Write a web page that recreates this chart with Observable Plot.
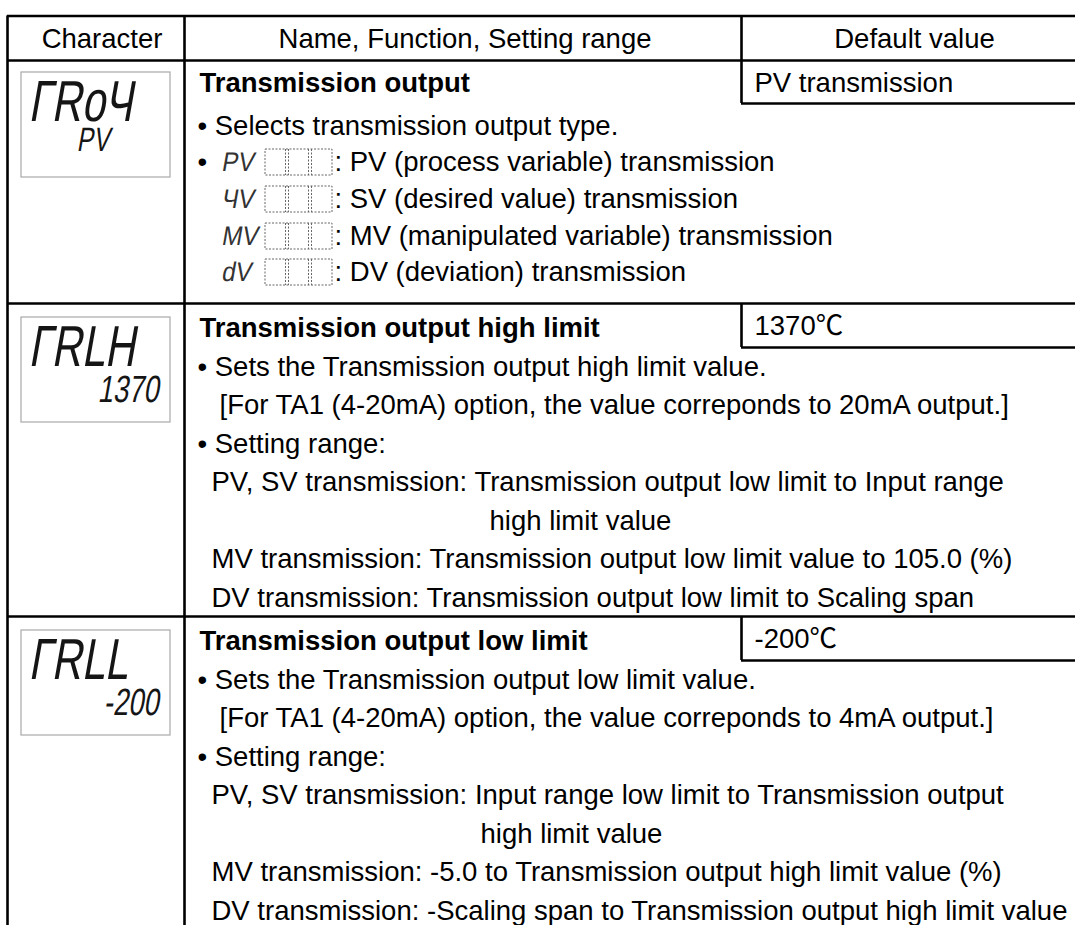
<!DOCTYPE html>
<html><head><meta charset="utf-8">
<script src="https://cdn.jsdelivr.net/npm/d3@7"></script>
<script src="https://cdn.jsdelivr.net/npm/@observablehq/plot@0.6"></script>
<style>
html,body{margin:0;padding:0;background:#fff;}
#chart svg{display:block;}
</style></head><body><div id="chart"></div>
<script>
// ---------------- DATA ----------------
const headers = ["Character", "Name, Function, Setting range", "Default value"];
const lcdMain = ["ΓRoЧ", "ΓRLH", "ΓRLL"];
const lcdSub = ["PV", "1370", "-200"];
const titles = ["Transmission output", "Transmission output high limit", "Transmission output low limit"];
const defaults = ["PV transmission", "1370℃", "-200℃"];
const row1Lines = ["• Selects transmission output type."];
const outputTypeCodes = ["PV", "ЧV", "MV", "dV"];
const outputTypeLabels = [
  "PV (process variable) transmission",
  "SV (desired value) transmission",
  "MV (manipulated variable) transmission",
  "DV (deviation) transmission"
];
const row2Lines = [
  "• Sets the Transmission output high limit value.",
  "[For TA1 (4-20mA) option, the value correponds to 20mA output.]",
  "• Setting range:",
  "PV, SV transmission: Transmission output low limit to Input range",
  "high limit value",
  "MV transmission: Transmission output low limit value to 105.0 (%)",
  "DV transmission: Transmission output low limit to Scaling span"
];
const row3Lines = [
  "• Sets the Transmission output low limit value.",
  "[For TA1 (4-20mA) option, the value correponds to 4mA output.]",
  "• Setting range:",
  "PV, SV transmission: Input range low limit to Transmission output",
  "high limit value",
  "MV transmission: -5.0 to Transmission output high limit value (%)",
  "DV transmission: -Scaling span to Transmission output high limit value"
];

// ---------------- LAYOUT ----------------
const W = 1075, H = 925;
const FONT = "'Liberation Sans', Arial, 'Noto Sans CJK JP', sans-serif";
const LCD_BIG = "'Liberation Sans', 'DejaVu Sans', lcdbig";
const LCD_SUBL = "'Liberation Sans', 'DejaVu Sans', lcdsmallL";
const LCD_SUBR = "'Liberation Sans', 'DejaVu Sans', lcdsmallR";
const LCD_INL = "'Liberation Sans', 'DejaVu Sans', lcdinline";
const FS = 27.5, LW = 2.6;
const colX = {left: 7, char: 184, def: 741};
const yTop = 15.5, yHead = 60;
const rowTop = [60, 303, 616];
const defBoxBottom = [103, 347, 660];
const lcdBox = {x1: 21, x2: 170, h: 105, top: [72, 317, 630]};
const tx = {title: 199, bullet: 197, bracket: 219, sub: 211, cont: [0, 489, 480], def: 754};
const row1Y = [83, 126, 162, 199, 236, 272];
const rowFirst = 25, rowStep = 38.5;
const inline = {glyph: 222, box1: 265, box2: 332, half: 13, div: [285, 288, 308, 311], label: 334};

const hLines = [
  {y: yTop, x1: colX.left, x2: W},
  {y: yHead, x1: colX.left, x2: W},
  ...rowTop.slice(1).map(y => ({y, x1: colX.left, x2: W})),
  ...defBoxBottom.map(y => ({y, x1: colX.def, x2: W}))
];
const vLines = [
  {x: colX.left, y1: yTop, y2: H},
  {x: colX.char, y1: yTop, y2: H},
  {x: colX.def, y1: yTop, y2: defBoxBottom[0]},
  {x: colX.def, y1: rowTop[1], y2: defBoxBottom[1]},
  {x: colX.def, y1: rowTop[2], y2: defBoxBottom[2]}
];

const headerTexts = headers.map((t, i) => ({text: t, x: [101.5, 464.5, 914][i], y: 39}));
const boldTexts = [];
const plainTexts = [];
const defTexts = defaults.map((t, r) => ({text: t, x: tx.def, y: (rowTop[r] + defBoxBottom[r]) / 2 + 1}));
boldTexts.push({text: titles[0], x: tx.title, y: row1Y[0]});
plainTexts.push({text: row1Lines[0], x: tx.bullet, y: row1Y[1]});
const inlineGlyphs = [], dashBoxes = [], dashDivs = [];
outputTypeCodes.forEach((code, j) => {
  const y = row1Y[2 + j];
  if (j === 0) plainTexts.push({text: "•", x: tx.bullet, y});
  inlineGlyphs.push({text: code, x: inline.glyph, y});
  dashBoxes.push({x1: inline.box1, x2: inline.box2, y1: y - inline.half, y2: y + inline.half});
  inline.div.forEach(x => dashDivs.push({x, y1: y - inline.half, y2: y + inline.half}));
  plainTexts.push({text: ": " + outputTypeLabels[j], x: inline.label, y});
});
[row2Lines, row3Lines].forEach((lines, k) => {
  const r = k + 1;
  const y0 = rowTop[r] + rowFirst;
  boldTexts.push({text: titles[r], x: tx.title, y: y0});
  lines.forEach((t, i) => {
    let x = tx.sub;
    if (t.startsWith("•")) x = tx.bullet;
    else if (t.startsWith("[")) x = tx.bracket;
    else if (!t.includes(":")) x = tx.cont[r];
    plainTexts.push({text: t, x, y: y0 + rowStep * (i + 1)});
  });
});
const lcdBoxes = lcdBox.top.map(t => ({x1: lcdBox.x1, x2: lcdBox.x2, y1: t, y2: t + lcdBox.h}));
const bigFS = 58, subFS = [34, 38];
const lcdBig = lcdMain.map((t, r) => ({text: t, x: 31, y: lcdBox.top[r] + 48 - 0.32 * bigFS}));
const lcdSubL = lcdSub.slice(0, 1).map(t => ({text: t, x: 78, y: lcdBox.top[0] + 78 - 0.32 * subFS[0]}));
const lcdSubR = lcdSub.slice(1).map((t, r) => ({text: t, x: 160, y: lcdBox.top[r + 1] + 84 - 0.32 * subFS[1]}));

const txt = (data, o) => Plot.text(data, {x: "x", y: "y", text: "text", textAnchor: "start", lineAnchor: "middle",
  fill: "black", fontFamily: FONT, fontSize: FS, ...o});

const chart = Plot.plot({
  width: W, height: H, margin: 0,
  x: {domain: [0, W], range: [0, W], axis: null},
  y: {domain: [0, H], range: [0, H], axis: null},
  style: {fontFamily: FONT, background: "white"},
  marks: [
    Plot.rect(lcdBoxes, {x1: "x1", x2: "x2", y1: "y1", y2: "y2", fill: "none", stroke: "#a8a8a8", strokeWidth: 1.2}),
    Plot.rect(dashBoxes, {x1: "x1", x2: "x2", y1: "y1", y2: "y2", fill: "none", stroke: "#666", strokeWidth: 1, strokeDasharray: "2,1.5"}),
    Plot.ruleX(dashDivs, {x: "x", y1: "y1", y2: "y2", stroke: "#666", strokeWidth: 1, strokeDasharray: "2,1.5"}),
    Plot.ruleY(hLines, {y: "y", x1: "x1", x2: "x2", stroke: "black", strokeWidth: LW}),
    Plot.ruleX(vLines, {x: "x", y1: "y1", y2: "y2", stroke: "black", strokeWidth: LW}),
    txt(headerTexts, {textAnchor: "middle"}),
    txt(boldTexts, {fontWeight: "bold"}),
    txt(plainTexts, {}),
    txt(defTexts, {}),
    txt(lcdBig, {fontFamily: LCD_BIG, fontSize: bigFS, fill: "#151515"}),
    txt(lcdSubL, {fontFamily: LCD_SUBL, fontSize: subFS[0], fill: "#151515"}),
    txt(lcdSubR, {fontFamily: LCD_SUBR, fontSize: subFS[1], fill: "#151515", textAnchor: "end"}),
    txt(inlineGlyphs, {fontFamily: LCD_INL, fontSize: 27, fill: "#333"})
  ]
});
document.getElementById("chart").appendChild(chart);

// slant & condense the LCD-style glyphs (7-segment look), anchored at each text's own position
function condense(marker, data, sx, skew) {
  const g = chart.querySelector(`g[font-family*="${marker}"]`);
  if (!g) return;
  g.querySelectorAll("text").forEach((t, i) => {
    const d = data[i]; if (!d) return;
    const tr = t.getAttribute("transform") || "";
    t.setAttribute("transform", `translate(${d.x},${d.y}) skewX(${skew}) scale(${sx},1) translate(${-d.x},${-d.y}) ${tr}`.trim());
  });
}
[["lcdbig", lcdBig, 0.72], ["lcdsmallR", lcdSubR, 0.72], ["lcdsmallL", lcdSubL, 0.72], ["lcdinline", inlineGlyphs, 0.9]]
  .forEach(([m, d, s]) => { try { condense(m, d, s, -10); } catch (e) {} });
</script></body></html>
